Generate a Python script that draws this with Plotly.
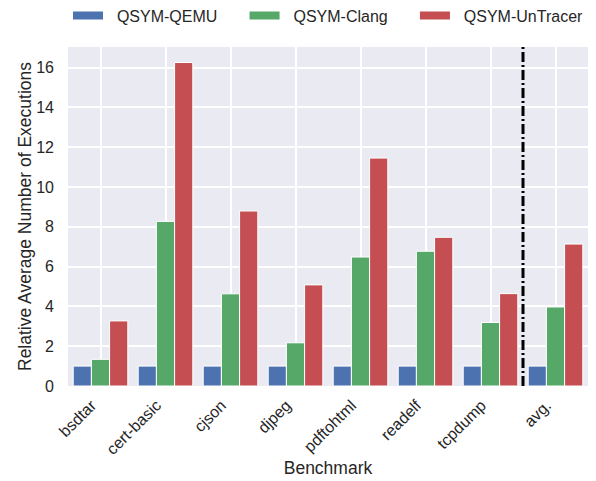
import plotly.graph_objects as go

categories = ["bsdtar", "cert-basic", "cjson", "djpeg", "pdftohtml", "readelf", "tcpdump", "avg."]
qsym_qemu = [1, 1, 1, 1, 1, 1, 1, 1]
qsym_clang = [1.34, 8.27, 4.63, 2.17, 6.48, 6.77, 3.19, 3.97]
qsym_untracer = [3.27, 16.25, 8.79, 5.08, 11.45, 7.47, 4.64, 7.13]

series_names = ["QSYM-QEMU", "QSYM-Clang", "QSYM-UnTracer"]
series_values = [qsym_qemu, qsym_clang, qsym_untracer]
colors = ["#4C72B0", "#55A868", "#C44E52"]

FONT = "Liberation Sans, Arial, sans-serif"
NB = "\u00a0"
W, H = 596, 481
ML, MR, MT, MB = 68, 8, 47, 95
fig = go.Figure()
xs = list(range(len(categories)))
for name, vals, c in zip(series_names, series_values, colors):
    fig.add_trace(go.Bar(x=xs, y=vals, name=name, marker=dict(color=c, line=dict(color="white", width=1)),
                         showlegend=False))
# legend proxies (wide patches)
for i, (name, c) in enumerate(zip(series_names, colors)):
    label = NB * 2 + name + (NB * 5 if i < len(series_names) - 1 else "")
    fig.add_trace(go.Scatter(x=[None], y=[None], mode="lines", name=label,
                             line=dict(color=c, width=8), showlegend=True))

sep = len(categories) - 1.5
fig.add_shape(type="line", xref="x", yref="paper", x0=sep, x1=sep, y0=0, y1=1,
              line=dict(color="black", width=3, dash="10px,3px,2px,3px"), layer="above")

fig.update_layout(
    width=W, height=H,
    margin=dict(l=ML, r=MR, t=MT, b=MB),
    paper_bgcolor="white", plot_bgcolor="#EAEAF2",
    barmode="group", bargap=0.16, bargroupgap=0,
    font=dict(family=FONT, color="#262626", size=16),
    legend=dict(orientation="h", xref="container", x=68 / W, xanchor="left",
                yref="container", y=1 - 15.5 / H, yanchor="middle",
                font=dict(size=16), itemwidth=30, bgcolor="rgba(0,0,0,0)"),
)
fig.update_xaxes(range=[-0.5, len(categories) - 0.5], tickvals=xs, ticktext=categories, tickangle=-45,
                 showgrid=True, gridcolor="white", gridwidth=1.5, zeroline=False, ticks="", automargin=False,
                 title=dict(text="Benchmark", font=dict(size=17.5), standoff=4), tickfont=dict(size=16),
                 ticklabelshift=-9, ticklabelstandoff=6)
fig.update_yaxes(range=[0, 17.03], tickvals=[0, 2, 4, 6, 8, 10, 12, 14, 16], showgrid=True,
                 gridcolor="white", gridwidth=1.5, zeroline=False, ticks="", automargin=False,
                 title=dict(text="Relative Average Number of Executions", font=dict(size=17.5), standoff=0),
                 tickfont=dict(size=16), ticklabelstandoff=13)
fig.write_html("out.html", config={"displayModeBar": False},
               post_script="document.body.style.margin='0';")
